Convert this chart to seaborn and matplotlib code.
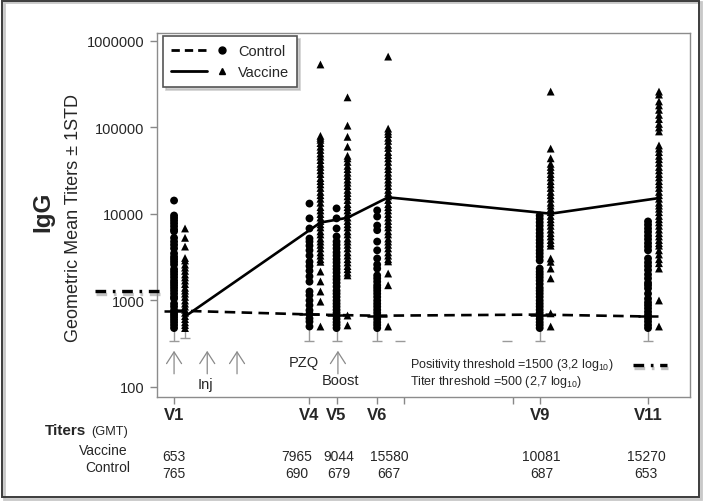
import numpy as np
import pandas as pd
import matplotlib
matplotlib.use("Agg")
import matplotlib.pyplot as plt
import seaborn as sns
from matplotlib.lines import Line2D
from matplotlib.legend_handler import HandlerBase
from matplotlib.patches import Rectangle
import matplotlib.patheffects as pe
import matplotlib.transforms as mtrans
from matplotlib.ticker import FixedLocator, NullLocator

# ---------------- data ----------------
visits = ["V1", "V4", "V5", "V6", "V9", "V11"]
visit_weeks = [0, 10, 12, 15, 27, 35]
extra_tick_weeks = [17, 25]
gmt_vaccine = [653, 7965, 9044, 15580, 10081, 15270]
gmt_control = [765, 690, 679, 667, 687, 653]
lower_control = [336, 336, 336, 336, 336, 336]
lower_vaccine_v1 = [364]
phantom_cap_weeks = [16.7, 24.6]
phantom_cap_values = [336, 336]

ctrl_v1 = [14300, 9600, 9000, 8400, 7800, 7200, 6600, 6300, 5300, 4800, 4400, 4000,
           3500, 3200, 3000, 2800, 2600, 2300, 2150, 2000, 1850, 1700, 1600, 1500,
           1400, 1300, 1200, 1100, 1050, 920, 850, 770, 720, 680, 640, 600, 560, 520, 480]
vacc_v1 = [6800, 5300, 4200, 3100, 2900, 2600, 2400, 2200, 2000, 1850, 1700, 1550,
           1400, 1300, 1200, 1100, 1000, 920, 850, 780, 720, 660, 610, 560, 520, 480]
ctrl_v4 = [13200, 8900, 6800, 5200, 4800, 4300, 3800, 3300, 2800, 2500, 2200, 1900,
           1650, 1270, 1150, 1000, 880, 770, 700, 620, 570, 500]
vacc_v4 = [535000, 80000, 76000, 72000, 66000, 60000, 55000, 50000, 46000, 42000,
           38000, 35000, 32000, 29000, 26000, 24000, 22000, 20000, 18000, 16500,
           15000, 13500, 12000, 11000, 10000, 9100, 8300, 7600, 7000, 6300, 5800,
           5200, 4800, 4400, 4000, 3600, 3300, 3000, 2800, 2160, 1660, 1270, 970, 500]
ctrl_v5 = [11600, 8900, 6800, 5500, 4800, 4400, 4000, 3600, 3300, 3000, 2750, 2500,
           2300, 2100, 1900, 1750, 1600, 1450, 1300, 1200, 1100, 1000, 920, 850, 780,
           720, 660, 610, 560, 520, 480]
vacc_v5 = [223000, 105000, 78000, 60000, 47000, 44000, 40000, 36000, 33000, 30000,
           27500, 25000, 23000, 21000, 19000, 17500, 16000, 14500, 13000, 12000,
           11000, 10000, 9100, 8300, 7600, 7000, 6300, 5800, 5200, 4800, 4400, 4000,
           3600, 3300, 3000, 2750, 2500, 2300, 2100, 1950, 670, 515]
ctrl_v6 = [11000, 9350, 7350, 6500, 4800, 3800, 3060, 2600, 2340, 1950, 1800, 1650,
           1500, 1400, 1300, 1200, 1100, 1000, 920, 850, 780, 720, 660, 610, 560, 520, 480]
vacc_v6 = [660000, 97000, 90000, 84000, 76000, 70000, 63000, 58000, 52000, 48000,
           44000, 40000, 36000, 33000, 30000, 27500, 25000, 23000, 21000, 19000,
           17500, 16000, 14500, 13000, 12000, 11000, 10000, 9100, 8300, 7600, 7000,
           6300, 5800, 5200, 4800, 4400, 4000, 3600, 3300, 3000, 2830, 2050, 1500, 500]
ctrl_v9 = [9600, 8800, 8000, 7300, 6600, 6000, 5500, 5000, 4600, 4200, 3800, 3500,
           3200, 2900, 2340, 2150, 2000, 1850, 1700, 1550, 1400, 1300, 1200, 1100,
           1000, 920, 850, 780, 720, 660, 610, 560, 520, 480]
vacc_v9 = [260000, 57000, 44000, 38000, 35000, 32000, 29000, 26500, 24000, 22000,
           20000, 18000, 16500, 15000, 13500, 12500, 11500, 10500, 9500, 8700, 8000,
           7300, 6600, 6000, 5500, 5000, 4600, 4300, 3060, 2800, 2340, 1800, 710, 500]
ctrl_v11 = [8200, 7500, 6800, 6200, 5600, 5100, 4600, 4200, 3800, 3060, 2750, 2500,
            2250, 2000, 1800, 1600, 1500, 1380, 1200, 1050, 950, 880, 810, 740, 680,
            620, 570, 520, 480]
vacc_v11 = [260000, 240000, 200000, 180000, 160000, 140000, 125000, 110000, 100000,
            90000, 62000, 57000, 52000, 47000, 43000, 39000, 35000, 32000, 29000,
            26500, 24000, 22000, 20000, 18000, 16500, 15000, 13500, 12500, 11500,
            10500, 9500, 8700, 8000, 7300, 6600, 6000, 5500, 5000, 4600, 4300, 3800,
            3400, 3000, 2700, 2340, 1000, 500]

control_cols = [ctrl_v1, ctrl_v4, ctrl_v5, ctrl_v6, ctrl_v9, ctrl_v11]
vaccine_cols = [vacc_v1, vacc_v4, vacc_v5, vacc_v6, vacc_v9, vacc_v11]

# ---------------- layout constants ----------------
W, H = 703, 502
VACC_OFFSET = 0.81  # weeks to the right of the visit tick
group_offset = {"Control": 0.0, "Vaccine": VACC_OFFSET}

rows = []
for wk, cc, vc in zip(visit_weeks, control_cols, vaccine_cols):
    for v in cc:
        rows.append(("Control", wk + group_offset["Control"], v))
    for v in vc:
        rows.append(("Vaccine", wk + group_offset["Vaccine"], v))
pts = pd.DataFrame(rows, columns=["group", "x", "titer"])

means = pd.DataFrame({
    "group": ["Control"] * 6 + ["Vaccine"] * 6,
    "x": [w + group_offset["Control"] for w in visit_weeks] + [w + group_offset["Vaccine"] for w in visit_weeks],
    "gmt": gmt_control + gmt_vaccine,
})

# ---------------- style ----------------
sns.set_theme(style="white")
plt.rcParams["font.family"] = ["Liberation Sans", "DejaVu Sans"]
plt.rcParams["mathtext.default"] = "regular"

fig = plt.figure(figsize=(W / 100, H / 100), dpi=100)
ax = fig.add_axes([157 / W, 104 / H, 533 / W, 364 / H])

def fx(px):
    return px / W

def fy(py):
    return 1 - py / H

# error bars (lower 1 STD) in grey, behind points
cx = [w + group_offset["Control"] for w in visit_weeks]
ax.vlines(cx, lower_control, gmt_control, color="#9a9a9a", lw=1.0, zorder=1)
ax.plot(cx, lower_control, ls="none", marker="_", ms=7, mew=1.0, color="#9a9a9a", zorder=1)
vx1 = [visit_weeks[0] + group_offset["Vaccine"]]
ax.vlines(vx1, lower_vaccine_v1, [gmt_vaccine[0]], color="#9a9a9a", lw=1.0, zorder=1)
ax.plot(vx1, lower_vaccine_v1, ls="none", marker="_", ms=7, mew=1.0, color="#9a9a9a", zorder=1)
ax.plot(phantom_cap_weeks, phantom_cap_values, ls="none", marker="_", ms=7, mew=1.0,
        color="#9a9a9a", zorder=1)

# individual points
sns.scatterplot(data=pts, x="x", y="titer", style="group",
                markers={"Control": "o", "Vaccine": "^"}, color="black",
                s=32, linewidth=0, legend=False, ax=ax, zorder=3)

# geometric mean lines
sns.lineplot(data=means, x="x", y="gmt", style="group",
             dashes={"Control": (4.0, 2.4), "Vaccine": ""}, color="black",
             lw=1.9, estimator=None, legend=False, ax=ax, zorder=4)
ax.plot(cx, gmt_control, ls="none", marker="_", ms=14, mew=1.8, color="black", zorder=4)

ax.set_yscale("log")
ax.set_ylim(76.6, 1.237e6)
ax.set_xlim(-1.26, 38.1)

yt = [100, 1000, 10000, 100000, 1000000]
ax.yaxis.set_major_locator(FixedLocator(yt))
ax.yaxis.set_minor_locator(NullLocator())
ax.set_yticklabels([str(v) for v in yt], fontsize=10.5)

xt = visit_weeks[:4] + extra_tick_weeks + visit_weeks[4:]
xl = visits[:4] + ["", ""] + visits[4:]
ax.xaxis.set_major_locator(FixedLocator(xt))
ax.xaxis.set_minor_locator(NullLocator())
ax.set_xticklabels(xl, fontsize=12, fontweight="bold")
ax.tick_params(axis="both", which="major", direction="out", length=5, width=1,
               color="#888888", bottom=True, left=True, pad=2)
ax.tick_params(axis="y", pad=4)
ax.set_xlabel("")
ax.set_ylabel("")
for sp in ax.spines.values():
    sp.set_color("#8c8c8c")
    sp.set_linewidth(1.0)

# arrows (injections / boost)
arrow_weeks = [0, 2.45, 4.65, 12.1]
for w in arrow_weeks:
    ax.annotate("", xy=(w, 262), xytext=(w, 142),
                arrowprops=dict(arrowstyle="->,head_width=0.45,head_length=0.7",
                                color="#8a8a8a", lw=0.9, shrinkA=0, shrinkB=0),
                zorder=2)
ax.text(2.3, 108, "Inj", fontsize=10.5, ha="center", va="center")
ax.text(9.6, 197, "PZQ", fontsize=10.5, ha="center", va="center")
ax.text(12.3, 122, "Boost", fontsize=10.5, ha="center", va="center")

# thresholds legend text (lower right)
ax.text(17.4, 182, "Positivity threshold =1500 (3,2 log$_{10}$)", fontsize=9,
        ha="left", va="center")
ax.text(17.4, 116, "Titer threshold =500 (2,7 log$_{10}$)", fontsize=9,
        ha="left", va="center")
shadow = [pe.SimpleLineShadow(offset=(1, -2), shadow_color="#9a9a9a", alpha=0.6), pe.Normal()]
fig.add_artist(Line2D([fx(633), fx(667)], [fy(366), fy(366)], transform=fig.transFigure,
                      color="black", lw=2.4, dashes=(3.2, 2.0, 0.8, 2.0),
                      path_effects=shadow))
# positivity threshold marker at left of axis
fig.add_artist(Line2D([fx(95), fx(163)], [fy(292), fy(292)], transform=fig.transFigure,
                      color="black", lw=2.4, dashes=(3.2, 2.0, 0.8, 2.0),
                      path_effects=shadow))

# legend with line + marker at right end
class LineMarkerHandler(HandlerBase):
    def create_artists(self, legend, orig_handle, xdescent, ydescent, width, height,
                       fontsize, trans):
        y = height / 2.0 - ydescent
        x0 = -xdescent
        ln = Line2D([x0, x0 + 0.66 * width], [y, y])
        ln.update_from(orig_handle)
        ln.set_marker("None")
        ln.set_transform(trans)
        mk = Line2D([x0 + 0.93 * width], [y])
        mk.update_from(orig_handle)
        mk.set_linestyle("None")
        mk.set_transform(trans)
        return [ln, mk]

h_ctrl = Line2D([], [], color="black", lw=2.0, dashes=(3.0, 1.8), marker="o", ms=5)
h_vacc = Line2D([], [], color="black", lw=2.0, ls="-", marker="^", ms=5)
leg = ax.legend([h_ctrl, h_vacc], ["Control", "Vaccine"],
                handler_map={h_ctrl: LineMarkerHandler(), h_vacc: LineMarkerHandler()},
                loc="upper left", bbox_to_anchor=(0.011, 0.992), borderaxespad=0,
                fontsize=10.5, handlelength=3.8, handletextpad=0.8, borderpad=0.55,
                fancybox=False, frameon=True,
                shadow={"color": "#b0b0b0", "alpha": 0.6, "ox": 2, "oy": -2})
leg.get_frame().set_edgecolor("#555555")
leg.get_frame().set_linewidth(1.2)

# y labels
fig.text(fx(43), fy(212), "IgG", rotation=90, fontsize=17.5, fontweight="bold",
         ha="center", va="center")
fig.text(fx(73), fy(218), "Geometric Mean Titers \u00b1 1STD", rotation=90,
         fontsize=13, ha="center", va="center")

# bottom GMT table
fig.text(fx(45), fy(431), "Titers", fontsize=11, fontweight="bold", ha="left", va="center")
fig.text(fx(91), fy(432), "(GMT)", fontsize=9.2, ha="left", va="center")
fig.text(fx(128), fy(451), "Vaccine", fontsize=10, ha="right", va="center")
fig.text(fx(130), fy(468), "Control", fontsize=10, ha="right", va="center")
label_nudge = [0.0, -0.96, 0.15, 0.9, 0.15, -0.15]
btrans = mtrans.blended_transform_factory(ax.transData, fig.transFigure)
for w, n, gv, gc in zip(visit_weeks, label_nudge, gmt_vaccine, gmt_control):
    fig.text(w + n, fy(457), str(gv), fontsize=10, ha="center", va="center", transform=btrans)
    fig.text(w + n, fy(474), str(gc), fontsize=10, ha="center", va="center", transform=btrans)

# outer frame
fig.add_artist(Rectangle((fx(4), 1 - 500 / H), fx(697), 497 / H, transform=fig.transFigure,
                         fill=False, edgecolor="#c8c8c8", lw=2.0))
fig.add_artist(Rectangle((fx(2), 1 - 498 / H), fx(697), 496 / H, transform=fig.transFigure,
                         fill=False, edgecolor="#3c3c3c", lw=1.4))

fig.savefig("out.png", dpi=100)
